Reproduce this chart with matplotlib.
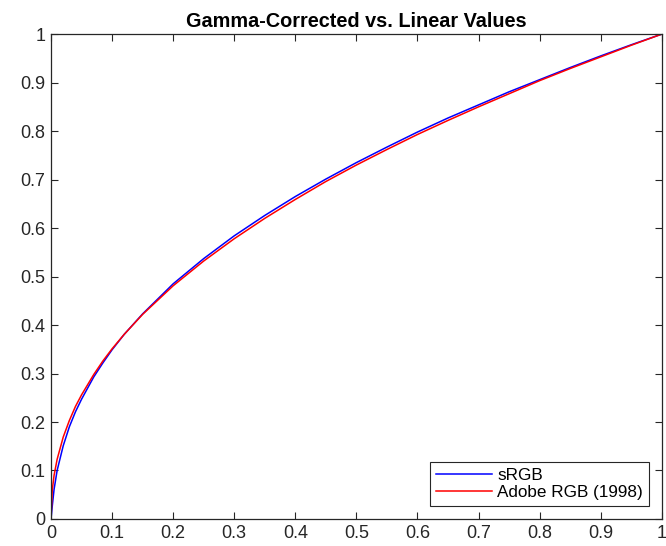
import matplotlib
matplotlib.use("Agg")
import matplotlib.pyplot as plt

plt.rcParams['font.family'] = ['Liberation Sans', 'DejaVu Sans']

# linear input values
linear = [0, 0.002, 0.005, 0.01, 0.02, 0.03, 0.04, 0.05, 0.07, 0.085, 0.1, 0.12,
          0.15, 0.2, 0.25, 0.3, 0.35, 0.4, 0.45, 0.5, 0.55, 0.6, 0.65, 0.7,
          0.75, 0.8, 0.85, 0.9, 0.95, 1.0]

srgb = [0, 0.026, 0.061, 0.100, 0.151, 0.190, 0.221, 0.247, 0.293, 0.322,
        0.349, 0.381, 0.423, 0.485, 0.537, 0.584, 0.626, 0.665, 0.701, 0.735,
        0.767, 0.798, 0.827, 0.854, 0.881, 0.906, 0.931, 0.955, 0.978, 1.0]

adobe = [0, 0.059, 0.090, 0.123, 0.169, 0.203, 0.232, 0.256, 0.298, 0.326,
         0.351, 0.381, 0.422, 0.481, 0.532, 0.578, 0.620, 0.659, 0.696, 0.730,
         0.762, 0.793, 0.822, 0.850, 0.877, 0.904, 0.929, 0.953, 0.977, 1.0]

ticks = [0, 0.1, 0.2, 0.3, 0.4, 0.5, 0.6, 0.7, 0.8, 0.9, 1]
tick_labels = ['0', '0.1', '0.2', '0.3', '0.4', '0.5', '0.6', '0.7', '0.8', '0.9', '1']

fig = plt.figure(figsize=(6.66, 5.46), dpi=100)
ax = fig.add_axes([0.0766, 0.0495, 0.917, 0.888])

ax.plot(linear, srgb, color='#0000ff', lw=1.1, label='sRGB')
ax.plot(linear, adobe, color='#ff0000', lw=1.1, label='Adobe RGB (1998)')

ax.set_xlim(0, 1)
ax.set_ylim(0, 1)
ax.set_xticks(ticks)
ax.set_xticklabels(tick_labels)
ax.set_yticks(ticks)
ax.set_yticklabels(tick_labels)
ax.tick_params(direction='in', top=True, right=True, length=5, width=0.8,
               colors='#262626', labelsize=13, pad=4)
for s in ax.spines.values():
    s.set_color('#262626')
    s.set_linewidth(0.9)

ax.set_title('Gamma-Corrected vs. Linear Values', fontsize=14.3, fontweight='bold', pad=5)

leg = ax.legend(loc='lower right', fontsize=12.3, fancybox=False, framealpha=1,
                edgecolor='#262626', borderpad=0.35, handlelength=3.3,
                handletextpad=0.3, labelspacing=0.15, borderaxespad=0.75)
leg.get_frame().set_linewidth(0.8)

fig.savefig('out.png', dpi=100)
